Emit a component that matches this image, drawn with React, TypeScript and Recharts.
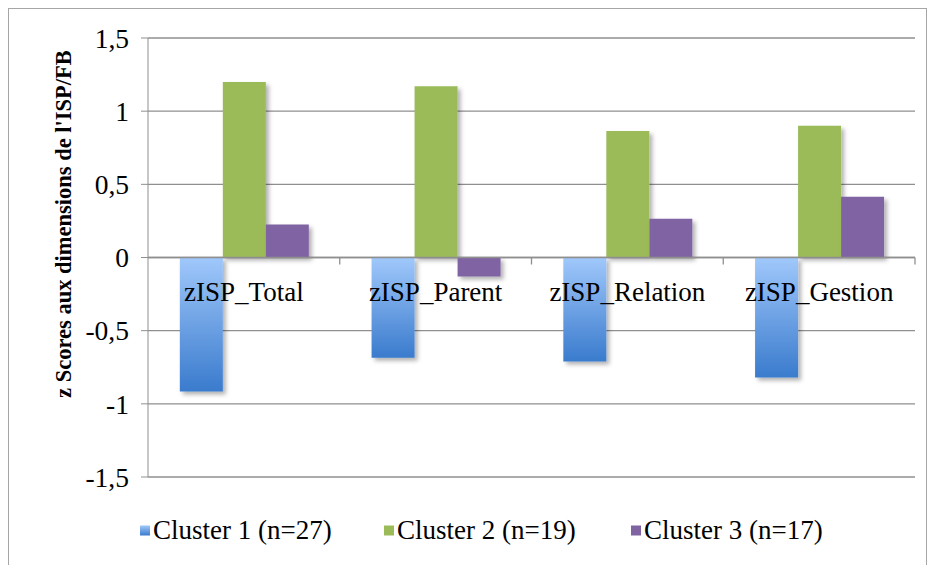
import { BarChart, Bar, XAxis, YAxis, CartesianGrid, ReferenceLine } from 'recharts';

const dimensions = ['zISP_Total', 'zISP_Parent', 'zISP_Relation', 'zISP_Gestion'];
const cluster1 = [-0.915, -0.685, -0.71, -0.82];
const cluster2 = [1.2, 1.17, 0.865, 0.9];
const cluster3 = [0.225, -0.13, 0.265, 0.415];
const seriesNames = ['Cluster 1 (n=27)', 'Cluster 2 (n=19)', 'Cluster 3 (n=17)'];
const yTicks = [-1.5, -1, -0.5, 0, 0.5, 1, 1.5];

const data = dimensions.map((name, i) => ({
  name,
  c1: cluster1[i],
  c2: cluster2[i],
  c3: cluster3[i],
}));

const W = 933;
const H = 565;
const margin = { top: 38, right: 18, bottom: 58, left: 0 };
const xAxisHeight = 30;
const yAxisWidth = 148;
const plotH = H - margin.top - margin.bottom - xAxisHeight;
const plotW = W - margin.left - margin.right - yAxisWidth;
const zeroY = margin.top + (plotH * (1.5 - 0)) / 3;
const gridColor = '#8f8f8f';
const font = 'Liberation Serif, Times New Roman, serif';

const swatches = ['url(#blueGrad)', '#9bbb59', '#8064a2'];
const legendLeft = [140, 384, 631];

function CategoryTick(props: any) {
  const { x, payload } = props;
  const half = plotW / dimensions.length / 2;
  return (
    <g>
      <line x1={x + half} x2={x + half} y1={zeroY} y2={zeroY + 7} stroke={gridColor} strokeWidth={1.3} />
      <text x={x} y={zeroY + 43} textAnchor="middle" style={{ fontFamily: font }} fontSize={27} fill="#000">
        {payload.value}
      </text>
    </g>
  );
}

export default function App() {
  return (
    <div style={{ position: 'absolute', left: 0, top: 0, width: W, height: H, overflow: 'hidden', background: '#fff', fontFamily: font }}>
      <svg width={0} height={0} style={{ position: 'absolute' }}>
        <defs>
          <linearGradient id="blueGrad" x1="0" y1="0" x2="0" y2="1">
            <stop offset="0%" stopColor="#a0c8fb" />
            <stop offset="100%" stopColor="#3a7bcd" />
          </linearGradient>
          <filter id="shadow" x="-20%" y="-20%" width="150%" height="150%">
            <feDropShadow dx="3" dy="3" stdDeviation="2" floodColor="#000" floodOpacity="0.3" />
          </filter>
        </defs>
      </svg>
      <div
        style={{
          position: 'absolute',
          left: 8,
          top: 8,
          width: 917,
          height: 600,
          border: '1.5px solid #a6a6a6',
        }}
      />
      <div style={{ position: 'absolute', left: 0, top: 0 }}>
        <BarChart width={W} height={H} data={data} margin={margin} barCategoryGap="16.6%" barGap={0}>
          <CartesianGrid vertical={false} stroke={gridColor} strokeWidth={1.3} />
          <XAxis
            dataKey="name"
            height={xAxisHeight}
            axisLine={false}
            tickLine={false}
            interval={0}
            tick={<CategoryTick />}
          />
          <YAxis
            width={yAxisWidth}
            domain={[-1.5, 1.5]}
            ticks={yTicks}
            interval={0}
            tickSize={7}
            tickMargin={12}
            stroke={gridColor}
            tickFormatter={(v: number) => String(v).replace('.', ',')}
            tick={{ fontSize: 27.5, fill: '#000', style: { fontFamily: font } }}
          />
          <ReferenceLine y={0} stroke={gridColor} strokeWidth={1.3} />
          <Bar dataKey="c1" name={seriesNames[0]} fill="url(#blueGrad)" filter="url(#shadow)" isAnimationActive={false} />
          <Bar dataKey="c2" name={seriesNames[1]} fill="#9bbb59" filter="url(#shadow)" isAnimationActive={false} />
          <Bar dataKey="c3" name={seriesNames[2]} fill="#8064a2" filter="url(#shadow)" isAnimationActive={false} />
        </BarChart>
      </div>
      <div
        style={{
          position: 'absolute',
          left: 64,
          top: 224,
          transform: 'translate(-50%, -50%) rotate(-90deg)',
          whiteSpace: 'nowrap',
          fontWeight: 'bold',
          fontSize: 22.5,
          color: '#000',
        }}
      >
        z Scores aux dimensions de l'ISP/FB
      </div>
      {seriesNames.map((n, i) => (
        <div
          key={n}
          style={{
            position: 'absolute',
            left: legendLeft[i],
            top: 530,
            transform: 'translateY(-50%)',
            display: 'flex',
            alignItems: 'center',
            fontSize: 27,
            color: '#000',
            whiteSpace: 'nowrap',
          }}
        >
          <svg width={12} height={12} style={{ marginRight: 1 }}>
            <rect x={0} y={1} width={10} height={10} fill={swatches[i]} />
          </svg>
          <span>{n}</span>
        </div>
      ))}
    </div>
  );
}
